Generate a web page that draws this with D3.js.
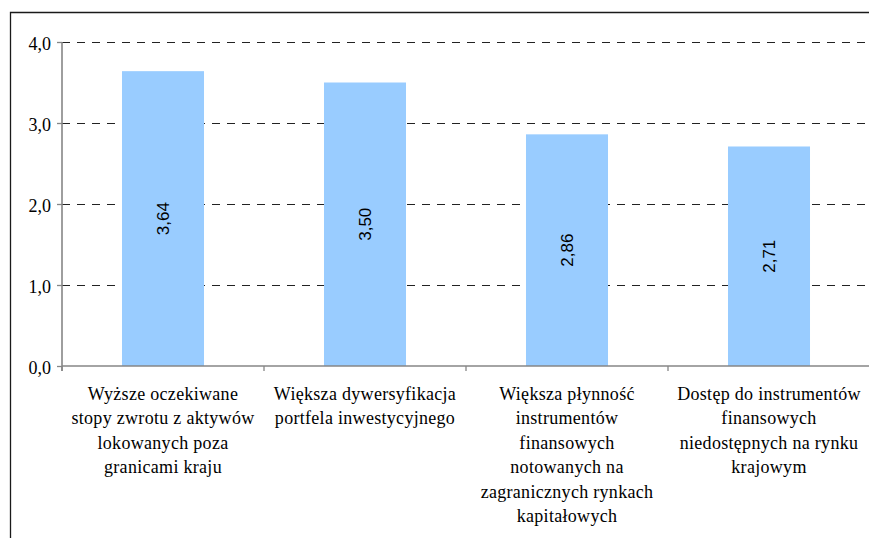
<!DOCTYPE html>
<html><head><meta charset="utf-8">
<script src="https://cdn.jsdelivr.net/npm/d3@7"></script>
<style>html,body{margin:0;padding:0;background:#fff;overflow:hidden;}svg{display:block;}
text.serif, tspan{font-family:"Times New Roman","Liberation Serif",Times,"DejaVu Serif",serif !important;}
text.sans{font-family:Arial,"Liberation Sans","DejaVu Sans",sans-serif !important;}</style>
</head><body>
<svg id="chart" width="869" height="538"></svg>
<script>
const categories = [
  ["Wyższe oczekiwane", "stopy zwrotu z aktywów", "lokowanych poza", "granicami kraju"],
  ["Większa dywersyfikacja", "portfela inwestycyjnego"],
  ["Większa płynność", "instrumentów", "finansowych", "notowanych na", "zagranicznych rynkach", "kapitałowych"],
  ["Dostęp do instrumentów", "finansowych", "niedostępnych na rynku", "krajowym"]
];
const values = [3.64, 3.50, 2.86, 2.71];
const yTicks = [0, 1, 2, 3, 4];
const yTickLabels = ["0,0", "1,0", "2,0", "3,0", "4,0"];

const svg = d3.select("#chart");
const pLeft = 62, pRight = 870, pTop = 42, pBottom = 366;
const ids = categories.map((c, i) => i);
const SERIF = "'Times New Roman', 'Liberation Serif', 'DejaVu Serif', serif";

const x = d3.scaleBand().domain(ids).range([pLeft, pRight]).paddingInner(0.594).paddingOuter(0.297);
const xb = d3.scaleBand().domain(ids).range([pLeft, pRight]).padding(0);
const y = d3.scaleLinear().domain([0, 4]).range([pBottom, pTop]);

// outer frame
svg.append("path").attr("d", "M10.5,538V12.5H869")
  .attr("fill", "none").attr("stroke", "#1a1a1a").attr("stroke-width", 1.3);

// gridlines
svg.append("g").selectAll("line").data(yTicks.filter(d => d > 0)).join("line")
  .attr("x1", pLeft).attr("x2", pRight)
  .attr("y1", d => Math.round(y(d)) + 0.5).attr("y2", d => Math.round(y(d)) + 0.5)
  .attr("stroke", "#222").attr("stroke-width", 1).attr("stroke-dasharray", "8,7");

// bars
svg.append("g").selectAll("rect").data(values).join("rect")
  .attr("x", (d, i) => x(i)).attr("width", x.bandwidth())
  .attr("y", d => y(d)).attr("height", d => y(0) - y(d))
  .attr("fill", "#99CCFF");

// value labels
const fmt = v => d3.format(".2f")(v).replace(".", ",");
svg.append("g").selectAll("text").data(values).join("text")
  .attr("class", "sans")
  .attr("transform", (d, i) => `translate(${x(i) + x.bandwidth() / 2},${(y(d) + y(0)) / 2}) rotate(-90)`)
  .attr("text-anchor", "middle").attr("dy", "0.35em")
  .attr("font-size", 17)
  .attr("fill", "#000").text(d => fmt(d));

// y axis
const yAxis = d3.axisLeft(y).tickValues(yTicks).tickSize(5).tickFormat((d, i) => yTickLabels[i]);
const gy = svg.append("g").attr("transform", `translate(${pLeft},0)`).call(yAxis)
  .attr("font-family", SERIF).attr("font-size", 18);
gy.select(".domain").attr("stroke", "#868686").attr("stroke-width", 1.6).attr("d", `M0,${pTop}V${pBottom + 5}`);
gy.selectAll(".tick line").attr("stroke", "#868686").attr("stroke-width", 1.3);
gy.selectAll(".tick text").attr("class", "serif").style("font-family", SERIF)
  .attr("font-size", 18).attr("fill", "#000").attr("x", -11).attr("dy", "0.4em");

// x axis
const gx = svg.append("g");
gx.append("line").attr("x1", pLeft).attr("x2", pRight).attr("y1", pBottom).attr("y2", pBottom)
  .attr("stroke", "#868686").attr("stroke-width", 1.6);
gx.selectAll("line.tk").data(ids.concat([ids.length])).join("line").attr("class", "tk")
  .attr("x1", d => d < ids.length ? xb(d) : pRight).attr("x2", d => d < ids.length ? xb(d) : pRight)
  .attr("y1", pBottom).attr("y2", pBottom + 5)
  .attr("stroke", "#868686").attr("stroke-width", 1.3);

// category labels
const lab = svg.append("g").attr("font-family", SERIF).selectAll("text").data(categories).join("text")
  .attr("class", "serif").style("font-family", SERIF)
  .attr("text-anchor", "middle")
  .attr("font-size", 18)
  .attr("letter-spacing", 0.3).attr("fill", "#000");
lab.each(function (lines, i) {
  const t = d3.select(this);
  lines.forEach((ln, j) => {
    t.append("tspan").attr("x", xb(i) + xb.bandwidth() / 2).attr("y", 400 + j * 24.4).text(ln);
  });
});
</script>
</body></html>
